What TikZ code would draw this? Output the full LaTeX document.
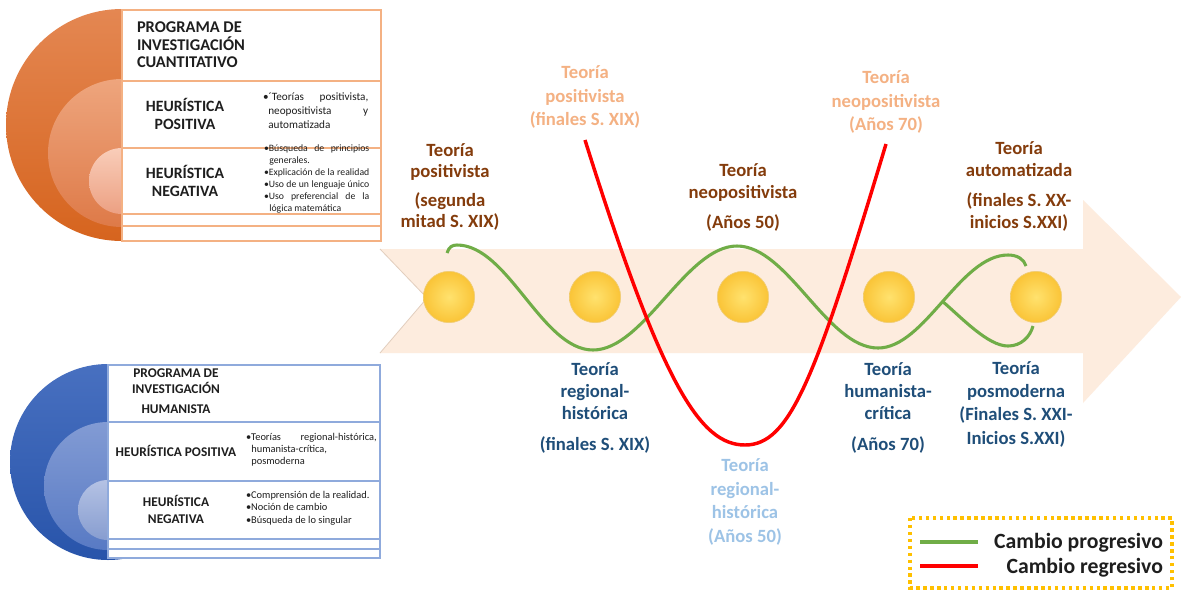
\documentclass[tikz,border=0pt]{standalone}
\usepackage{fontspec}
\setmainfont{Carlito}
\definecolor{cBand}{RGB}{253,236,222}
\definecolor{cNotch}{RGB}{226,206,190}
\definecolor{cGreen}{RGB}{112,173,71}
\definecolor{cRed}{RGB}{255,0,0}
\definecolor{cBrown}{RGB}{132,60,12}
\definecolor{cPeach}{RGB}{244,177,131}
\definecolor{cBlue}{RGB}{31,78,121}
\definecolor{cLBlue}{RGB}{157,195,230}
\definecolor{cGold}{RGB}{255,192,0}
\definecolor{cYin}{RGB}{255,226,110}
\definecolor{cYout}{RGB}{250,196,55}
\definecolor{cYdraw}{RGB}{240,205,120}
\definecolor{cOline}{RGB}{244,177,131}
\definecolor{cBline}{RGB}{143,170,220}
\definecolor{oT1}{RGB}{228,135,82}
\definecolor{oB1}{RGB}{214,100,30}
\definecolor{oT2}{RGB}{238,165,125}
\definecolor{oB2}{RGB}{222,122,72}
\definecolor{oT3}{RGB}{249,205,185}
\definecolor{oB3}{RGB}{236,160,130}
\definecolor{bT1}{RGB}{72,112,192}
\definecolor{bB1}{RGB}{40,84,170}
\definecolor{bT2}{RGB}{130,155,212}
\definecolor{bB2}{RGB}{88,122,196}
\definecolor{bT3}{RGB}{180,194,228}
\definecolor{bB3}{RGB}{135,157,208}
\definecolor{cTxt}{RGB}{30,30,30}
\newcommand\fsz[2]{\fontsize{#1}{#2}\selectfont}
\newcommand\jl[2]{\makebox[#1][l]{#2}}
\begin{document}
\begin{tikzpicture}[x=0.75pt,y=-0.75pt,
  every node/.style={inner sep=0pt,outer sep=0pt},
  lbl/.style={align=center,font=\bfseries\fsz{14}{16}},
  greenline/.style={draw=cGreen,line width=2.3pt},
  redline/.style={draw=cRed,line width=2.6pt},
  ball/.style={circle,minimum size=38.5pt,shading=radial,inner color=cYin,outer color=cYout,draw=cYdraw,line width=0.5pt},
  rowO/.style={draw=cOline,fill=white,line width=0.8pt},
  rowB/.style={draw=cBline,fill=white,line width=0.8pt},
  ptxt/.style={text=cTxt}]
\path[use as bounding box,fill=white] (0,0) rectangle (1181,590);

% big arrow
\fill[cBand] (380,249) -- (1083,249) -- (1083,200) -- (1181,297) -- (1083,403) -- (1083,353) -- (380,353) -- (427,298) -- cycle;
\draw[cNotch,line width=0.6pt] (380,249) -- (427,298) -- (380,353);

% green progressive change
\coordinate (g0) at (447,253);
\coordinate (gp1) at (457,245);
\coordinate (gt1) at (593,350);
\coordinate (gp2) at (737,246);
\coordinate (gt2) at (878,348);
\coordinate (gj) at (942.6,301.5);
\coordinate (gp3) at (1008,255);
\coordinate (ge3) at (1026,266);
\coordinate (gt3) at (1008,346);
\coordinate (ge4) at (1033,326);
\draw[greenline] (g0) .. controls (449,247) and (452,245) .. (gp1)
  .. controls (508,245) and (542,350) .. (gt1)
  .. controls (644,350) and (686,246) .. (gp2)
  .. controls (788,246) and (827,348) .. (gt2)
  .. controls (925,348) and (960,255) .. (gp3)
  .. controls (1017,255) and (1024,259) .. (ge3);
\draw[greenline] (gj) .. controls (962,318) and (988,346) .. (gt3)
  .. controls (1021,346) and (1030,337) .. (ge4);

% yellow milestones
\node[ball] (c1) at (449,297) {};
\node[ball] (c2) at (595,297) {};
\node[ball] (c3) at (743,297) {};
\node[ball] (c4) at (889,297) {};
\node[ball] (c5) at (1036,297) {};

% red regressive change
\coordinate (r0) at (585,140);
\coordinate (rb) at (745,445);
\coordinate (r1) at (886,144);
\draw[redline] (r0) .. controls (662,385) and (700,445) .. (rb)
  .. controls (790,445) and (815,380) .. (r1);

% labels above
\node[lbl,text=cBrown,font=\bfseries\fsz{14}{15.75}] (L1) at (450,187) {Teoría\\positivista\\[6.5pt](segunda\\mitad S. XIX)};
\node[lbl,text=cPeach,font=\bfseries\fsz{14}{17.6}] (L2) at (585,97) {Teoría\\positivista\\(finales S. XIX)};
\node[lbl,text=cBrown,font=\bfseries\fsz{14}{16.5}] (L3) at (743,197) {Teoría\\neopositivista\\[6pt](Años 50)};
\node[lbl,text=cPeach,font=\bfseries\fsz{14}{17.6}] (L4) at (886,102) {Teoría\\neopositivista\\(Años 70)};
\node[lbl,text=cBrown,font=\bfseries\fsz{14}{16.5}] (L5) at (1019,186) {Teoría\\automatizada\\[6pt](finales S. XX-\\inicios S.XXI)};
% labels below
\node[lbl,text=cBlue,font=\bfseries\fsz{14}{16.3}] (L6) at (595,408) {Teoría\\regional-\\histórica\\[7pt](finales S. XIX)};
\node[lbl,text=cBlue,font=\bfseries\fsz{14}{16.3}] (L7) at (888,408) {Teoría\\humanista-\\crítica\\[7pt](Años 70)};
\node[lbl,text=cBlue,font=\bfseries\fsz{14}{17.5}] (L8) at (1016,404) {Teoría\\posmoderna\\(Finales S. XXI-\\Inicios S.XXI)};
\node[lbl,text=cLBlue,font=\bfseries\fsz{14}{17.7}] (L9) at (745,502) {Teoría\\regional-\\histórica\\(Años 50)};

% top panel (quantitative)
\shade[top color=oT1,bottom color=oB1] (122,125) circle (116);
\shade[top color=oT2,bottom color=oB2] (122,153) circle (74);
\shade[top color=oT3,bottom color=oB3] (122,181) circle (33);
\draw[rowO] (122,10) rectangle (381,81);
\draw[rowO] (122,81) rectangle (381,148);
\draw[rowO] (122,148) rectangle (381,214);
\draw[rowO] (122,214) rectangle (381,226);
\draw[rowO] (122,226) rectangle (381,241);
\node[ptxt,anchor=west,align=left,font=\bfseries\fsz{12.3}{13.2}] (t1) at (137,45) {PROGRAMA DE\\INVESTIGACIÓN\\CUANTITATIVO};
\node[ptxt,align=center,font=\bfseries\fsz{11.8}{13.5}] (t2) at (185,114) {HEURÍSTICA\\POSITIVA};
\node[ptxt,anchor=north west,align=left,font=\fsz{8.4}{10.5}] (t3) at (263,93) {\jl{79pt}{•´Teorías\hfill positivista,}\\ \hspace*{4pt}\jl{75pt}{neopositivista\hfill y}\\ \hspace*{4pt}automatizada};
\node[ptxt,align=center,font=\bfseries\fsz{11.8}{13.5}] (t4) at (185,181) {HEURÍSTICA\\NEGATIVA};
\node[ptxt,anchor=north west,align=left,font=\fsz{7.3}{9}] (t5) at (264,145) {\jl{79pt}{•Búsqueda\hfill de\hfill principios}\\ \hspace*{4pt}generales.\\ \jl{79pt}{•Explicación\hfill de\hfill la\hfill realidad}\\ \jl{79pt}{•Uso\hfill de\hfill un\hfill lenguaje\hfill único}\\ \jl{79pt}{•Uso\hfill preferencial\hfill de\hfill la}\\ \hspace*{4pt}lógica matemática};

% bottom panel (humanist)
\shade[top color=bT1,bottom color=bB1] (108,462) circle (98);
\shade[top color=bT2,bottom color=bB2] (108,486) circle (64);
\shade[top color=bT3,bottom color=bB3] (108,510) circle (30);
\draw[rowB] (108,365) rectangle (380,422);
\draw[rowB] (108,422) rectangle (380,481);
\draw[rowB] (108,481) rectangle (380,539);
\draw[rowB] (108,539) rectangle (380,549);
\draw[rowB] (108,549) rectangle (380,558);
\node[ptxt,align=center,font=\bfseries\fsz{10}{12}] (b1) at (176,391) {PROGRAMA DE\\INVESTIGACIÓN\\[3pt]HUMANISTA};
\node[ptxt,font=\bfseries\fsz{10}{12}] (b2) at (176,451) {HEURÍSTICA POSITIVA};
\node[ptxt,anchor=north west,align=left,font=\fsz{7.8}{9}] (b3) at (246,433) {\jl{98pt}{•Teorías\hfill regional-histórica,}\\ \hspace*{4pt}humanista-crítica,\\ \hspace*{4pt}posmoderna};
\node[ptxt,align=center,font=\bfseries\fsz{10}{12.75}] (b4) at (176,509) {HEURÍSTICA\\NEGATIVA};
\node[ptxt,anchor=north west,align=left,font=\fsz{7.8}{9.3}] (b5) at (246,491) {•Comprensión de la realidad.\\•Noción de cambio\\•Búsqueda de lo singular};

% legend
\draw[cGold,line width=2.6pt,dash pattern=on 2.6pt off 2.6pt] (910,518) rectangle (1172,588);
\coordinate (lg1) at (920,542);
\coordinate (lg2) at (978,542);
\coordinate (lr1) at (920,566);
\coordinate (lr2) at (978,566);
\draw[greenline,line width=3pt] (lg1) -- (lg2);
\draw[redline,line width=3pt] (lr1) -- (lr2);
\node[ptxt,anchor=base east,font=\bfseries\fsz{16.3}{18}] (lp) at (1163,548) {Cambio progresivo};
\node[ptxt,anchor=base east,font=\bfseries\fsz{16.3}{18}] (lrg) at (1163,573) {Cambio regresivo};
\end{tikzpicture}
\end{document}
